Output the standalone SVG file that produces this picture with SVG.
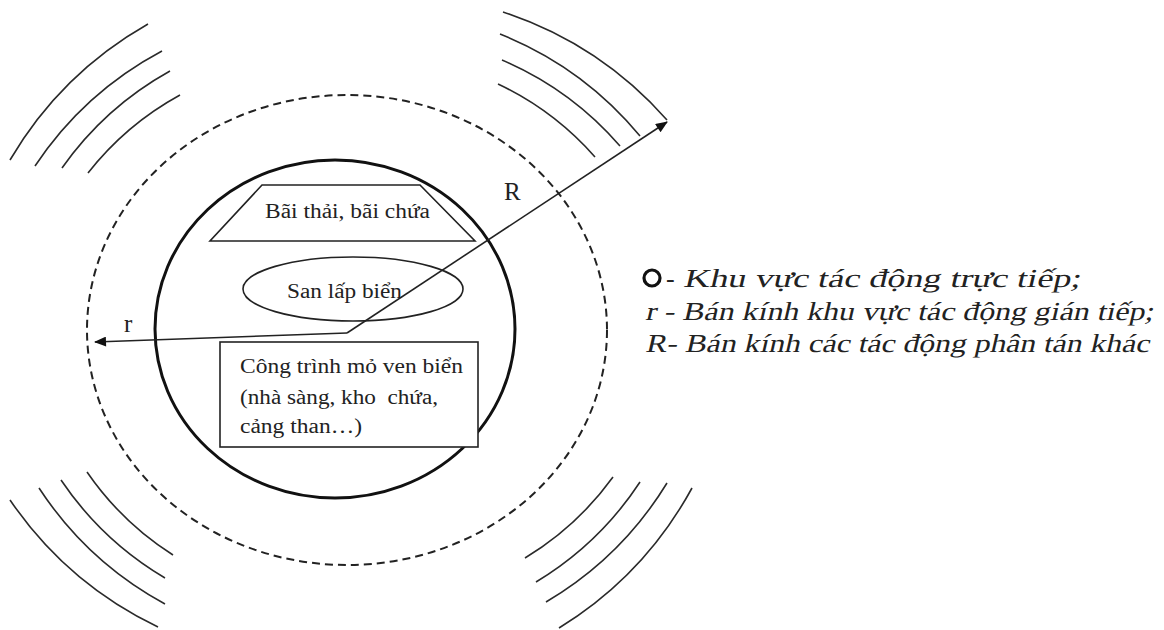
<svg xmlns="http://www.w3.org/2000/svg" width="1164" height="630" viewBox="0 0 1164 630">
<style>
.arc{fill:none;stroke:#2a2a2a;stroke-width:1.6}
.lbl{font-family:"Liberation Serif","Times New Roman",serif;font-size:20px;fill:#222}
.leg{font-family:"Liberation Serif","Times New Roman",serif;font-size:26px;fill:#222}
.ln{fill:none;stroke:#222;stroke-width:1.6}
</style>
<defs>
<marker id="ah" viewBox="0 0 12 10" refX="11" refY="5" markerWidth="13" markerHeight="10" markerUnits="userSpaceOnUse" orient="auto"><path d="M0,0 L12,5 L0,10 z" fill="#111"/></marker>
</defs>
<rect width="1164" height="630" fill="#fff"/>
<g id="waves">
<path class="arc" d="M10,160 A375,375 0 0 1 148,24"/>
<path class="arc" d="M35,166 A350,350 0 0 1 162,51"/>
<path class="arc" d="M62,168 A325,325 0 0 1 170,71"/>
<path class="arc" d="M88,173 A300,300 0 0 1 180,95"/>
<path class="arc" d="M503,12 A375,375 0 0 1 667,120"/>
<path class="arc" d="M500,34 A350,350 0 0 1 640,136"/>
<path class="arc" d="M502,60 A325,325 0 0 1 620,146"/>
<path class="arc" d="M498,84 A300,300 0 0 1 595,157"/>
<path class="arc" d="M10,500 A375,375 0 0 0 158,627"/>
<path class="arc" d="M39,488 A350,350 0 0 0 165,604"/>
<path class="arc" d="M61,480 A325,325 0 0 0 165,578"/>
<path class="arc" d="M87,472 A300,300 0 0 0 173,555"/>
<path class="arc" d="M525,558 A300,300 0 0 0 613,477"/>
<path class="arc" d="M536,582 A325,325 0 0 0 640,482"/>
<path class="arc" d="M546,602 A350,350 0 0 0 667,483"/>
<path class="arc" d="M559,628 A375,375 0 0 0 692,488"/>
</g>
<g id="outer-zone">
<ellipse cx="347" cy="330" rx="260" ry="235" fill="none" stroke="#222" stroke-width="2" stroke-dasharray="8,5"/>
</g>
<g id="direct-zone">
<ellipse cx="335" cy="329" rx="180" ry="169" fill="none" stroke="#111" stroke-width="3"/>
</g>
<g id="bai-thai">
<path d="M262,185 L420,185 L475,241 L210,241 Z" fill="#fff" stroke="#222" stroke-width="1.6"/>
<text class="lbl" x="265" y="218" textLength="165" lengthAdjust="spacingAndGlyphs">Bãi thải, bãi chứa</text>
</g>
<g id="san-lap">
<ellipse cx="353" cy="289" rx="110" ry="32" fill="#fff" stroke="#222" stroke-width="1.6"/>
<text class="lbl" x="287" y="298" textLength="115" lengthAdjust="spacingAndGlyphs">San lấp biển</text>
</g>
<g id="cong-trinh">
<rect x="220" y="342" width="258" height="105" fill="#fff" stroke="#222" stroke-width="1.6"/>
<text class="lbl" x="240" y="373" textLength="223" lengthAdjust="spacingAndGlyphs">Công trình mỏ ven biển</text>
<text class="lbl" x="240" y="404" textLength="198" lengthAdjust="spacingAndGlyphs" xml:space="preserve">(nhà sàng, kho  chứa,</text>
<text class="lbl" x="240" y="433" textLength="122" lengthAdjust="spacingAndGlyphs">cảng than…)</text>
</g>
<g id="connectors">
<path class="ln" d="M347,333 L95,342" marker-end="url(#ah)"/>
<path class="ln" d="M347,333 L667,122" marker-end="url(#ah)"/>
<text class="lbl" x="124" y="332" style="font-size:25px">r</text>
<text class="lbl" x="504" y="200" style="font-size:25px">R</text>
</g>
<g id="legend">
<circle cx="652" cy="278" r="8" fill="none" stroke="#111" stroke-width="3.2"/>
<text class="leg" x="666" y="287">-</text>
<text class="leg" transform="translate(683,287) skewX(-13)" textLength="397" lengthAdjust="spacingAndGlyphs">Khu vực tác động trực tiếp;</text>
<text class="leg" transform="translate(645,320) skewX(-13)" textLength="508" lengthAdjust="spacingAndGlyphs">r - Bán kính khu vực tác động gián tiếp;</text>
<text class="leg" transform="translate(645,352) skewX(-13)" textLength="504" lengthAdjust="spacingAndGlyphs">R- Bán kính các tác động phân tán khác</text>
</g>
</svg>
